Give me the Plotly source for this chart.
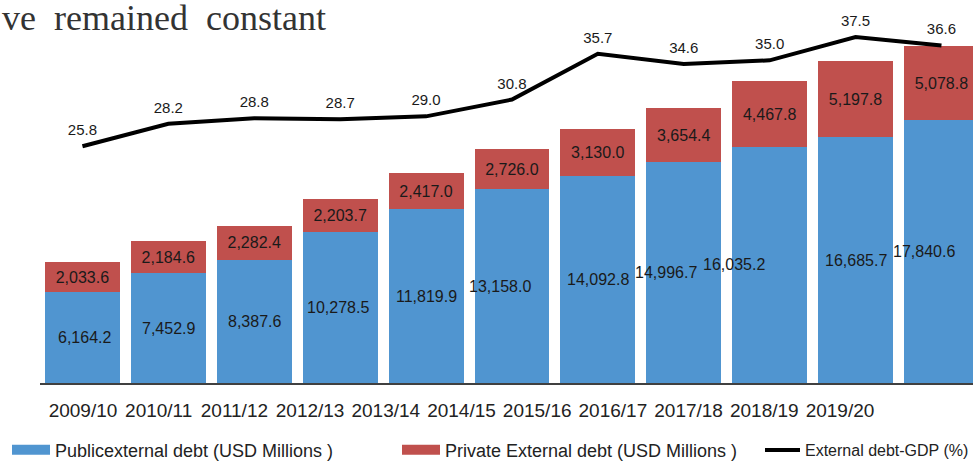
import plotly.graph_objects as go

# ---- data ----
years = ["2009/10", "2010/11", "2011/12", "2012/13", "2013/14", "2014/15",
         "2015/16", "2016/17", "2017/18", "2018/19", "2019/20"]
public_debt = [6164.2, 7452.9, 8387.6, 10278.5, 11819.9, 13158.0,
               14092.8, 14996.7, 16035.2, 16685.7, 17840.6]
private_debt = [2033.6, 2184.6, 2282.4, 2203.7, 2417.0, 2726.0,
                3130.0, 3654.4, 4467.8, 5197.8, 5078.8]
debt_gdp = [25.8, 28.2, 28.8, 28.7, 29.0, 30.8, 35.7, 34.6, 35.0, 37.5, 36.6]

# ---- styling ----
BLUE = "#5095D0"
RED = "#C0504D"
W, H = 973, 461
label_nudge_px = [2, 0, 0, -2, 0, -12, 0, -18, -36, 0, -17]

fig = go.Figure()

fig.add_trace(go.Bar(
    x=years, y=public_debt, marker=dict(color=BLUE, line=dict(width=0)),
    name="Publicexternal debt (USD Millions )", showlegend=False,
    hoverinfo="skip",
))
fig.add_trace(go.Bar(
    x=years, y=private_debt, marker=dict(color=RED, line=dict(width=0)),
    name="Private External debt (USD Millions )", showlegend=False,
    text=[f"{v:,.1f}" for v in private_debt], texttemplate="%{text}",
    textposition="inside", insidetextanchor="middle", constraintext="none",
    textfont=dict(family="Liberation Sans", size=16, color="#1a1a1a"),
    hoverinfo="skip",
))
fig.add_trace(go.Scatter(
    x=years, y=debt_gdp, yaxis="y2", mode="lines+markers+text",
    line=dict(color="#000000", width=4),
    marker=dict(size=10, color="rgba(0,0,0,0)"),
    text=[f"{v:.1f}" for v in debt_gdp], textposition="top center",
    textfont=dict(family="Liberation Sans", size=15, color="#1a1a1a"),
    name="External debt-GDP (%)", legend="legend3", cliponaxis=False,
))
# legend swatches
fig.add_trace(go.Scatter(x=[None], y=[None], mode="lines",
                         line=dict(color=BLUE, width=12),
                         name="Publicexternal debt (USD Millions )", legend="legend"))
fig.add_trace(go.Scatter(x=[None], y=[None], mode="lines",
                         line=dict(color=RED, width=12),
                         name="Private External debt (USD Millions )", legend="legend2"))
# invisible trace carrying the category labels axis
fig.add_trace(go.Scatter(x=years, y=[0] * len(years), xaxis="x2", mode="markers",
                         marker=dict(opacity=0), showlegend=False, hoverinfo="skip"))

annotations = []
for i, (yr, v) in enumerate(zip(years, public_debt)):
    annotations.append(dict(
        x=yr, y=v / 2, xref="x", yref="y", text=f"{v:,.1f}", showarrow=False,
        xshift=label_nudge_px[i],
        font=dict(family="Liberation Sans", size=16, color="#1a1a1a"),
    ))
annotations.append(dict(
    x=0, y=1.0, xref="paper", yref="paper", xanchor="left", yanchor="middle",
    yshift=-2.5,
    text="ve\u00a0\u00a0remained\u00a0\u00a0constant", showarrow=False,
    font=dict(family="Liberation Serif", size=36, color="#333333"),
))

def legend_font(size):
    return dict(family="Liberation Sans", size=size, color="#222222")

legend_common = dict(orientation="h", xanchor="left", y=-0.182, yanchor="middle",
                     bgcolor="rgba(0,0,0,0)")

plot_left = 39.5
bar_step = 85.9
fig.update_layout(
    width=W, height=H,
    margin=dict(l=0, r=0, t=15, b=78, autoexpand=False),
    paper_bgcolor="white", plot_bgcolor="rgba(0,0,0,0)",
    barmode="stack", bargap=0.128,
    xaxis=dict(domain=[plot_left / W, 1], type="category",
               range=[-0.5, -0.5 + (W - plot_left) / bar_step],
               showticklabels=False, ticks="", showgrid=False,
               showline=True, linecolor="#404040", linewidth=2, zeroline=False),
    xaxis2=dict(domain=[45.15 / W, 877.85 / W], anchor="y", type="category",
                range=[-0.5, 10.5], showgrid=False, showline=False,
                ticks="outside", ticklen=10, tickcolor="rgba(0,0,0,0)",
                tickfont=dict(family="Liberation Sans", size=19, color="#222222")),
    yaxis=dict(range=[0, 25000], visible=False, showgrid=False),
    yaxis2=dict(range=[0.43, 39.86], overlaying="y", visible=False, showgrid=False),
    legend=dict(x=7 / W, itemwidth=38, font=legend_font(18), **legend_common),
    legend2=dict(x=397 / W, itemwidth=38, font=legend_font(18), **legend_common),
    legend3=dict(x=760 / W, itemwidth=35, font=legend_font(16), **legend_common),
    annotations=annotations,
    showlegend=True,
)

fig.write_html("out.html")
